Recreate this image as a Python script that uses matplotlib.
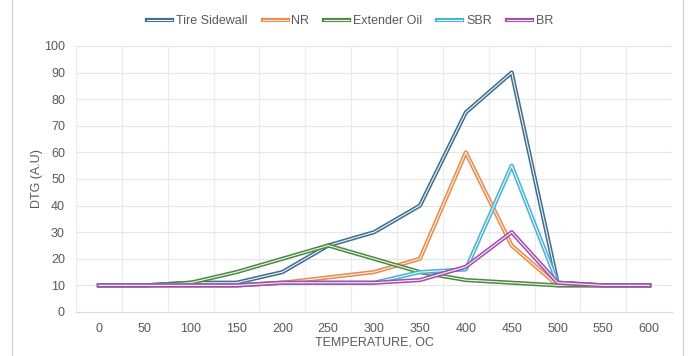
import numpy as np
import matplotlib
matplotlib.use("Agg")
import matplotlib.pyplot as plt
import matplotlib.patheffects as pe

plt.rcParams['font.family'] = ['Liberation Sans', 'DejaVu Sans']

# data --------------------------------------------------------
temps = [0, 50, 100, 150, 200, 250, 300, 350, 400, 450, 500, 550, 600]
tire_sidewall = [10, 10, 11, 11, 15, 25, 30, 40, 75, 90, 11, 10, 10]
nr = [10, 10, 10, 10, 11, 13, 15, 20, 60, 25, 10, 10, 10]
extender_oil = [10, 10, 11, 15, 20, 25, 20, 15, 12, 11, 10, 10, 10]
sbr = [10, 10, 10, 10, 11, 11, 11, 15, 16, 55, 11, 10, 10]
br = [10, 10, 10, 10, 11, 11, 11, 12, 17, 30, 11, 10, 10]

series = [
    ("Tire Sidewall", tire_sidewall, "#3d6e8f"),
    ("NR", nr, "#ed8a45"),
    ("Extender Oil", extender_oil, "#4b8a3e"),
    ("SBR", sbr, "#45b3d6"),
    ("BR", br, "#a54bb0"),
]

fig = plt.figure(figsize=(6.88, 3.56), dpi=100)
ax = fig.add_axes([0.1105, 0.1236, 0.8665, 0.7474])

x = np.arange(len(temps))
for name, vals, col in series:
    # "double" line look: coloured outline with a pale core
    ax.plot(x, vals, color="#f4f4f4", lw=0.8, label=name,
            path_effects=[pe.Stroke(linewidth=3.0, foreground=col), pe.Normal()])

ax.set_xlim(-0.5, len(temps) - 0.5)
ax.set_ylim(0, 100)
ax.set_yticks(range(0, 101, 10))
ax.set_xticks(x)
ax.set_xticklabels([str(t) for t in temps])
ax.set_xticks(np.arange(-0.5, len(temps), 1), minor=True)

ax.grid(axis='y', which='major', color="#e6e6e6", lw=0.8)
ax.grid(axis='x', which='minor', color="#ececec", lw=0.8)
ax.set_axisbelow(True)

for s in ['top', 'right', 'left']:
    ax.spines[s].set_visible(False)
ax.spines['bottom'].set_color("#d9d9d9")
ax.tick_params(which='both', length=0, colors="#595959", labelsize=9)
ax.tick_params(axis='x', pad=8)
ax.tick_params(axis='y', pad=8)

ax.set_xlabel("TEMPERATURE, OC", fontsize=9, color="#595959", labelpad=1)
ax.set_ylabel("DTG (A.U)", fontsize=9, color="#595959", labelpad=1)

fig.legend(loc='center', bbox_to_anchor=(0.509, 0.941), ncol=5, frameon=False,
           fontsize=9, handlelength=2.0, columnspacing=1.2, handletextpad=0.3,
           labelcolor="#595959")

# faint frame edges seen at the sides of the reference
fig.add_artist(plt.Line2D([0.017, 0.017], [0.0, 1.0], color="#d0d0d0", lw=0.8))
fig.add_artist(plt.Line2D([0.993, 0.993], [0.0, 1.0], color="#d0d0d0", lw=0.8))

fig.savefig("out.png", dpi=100)
